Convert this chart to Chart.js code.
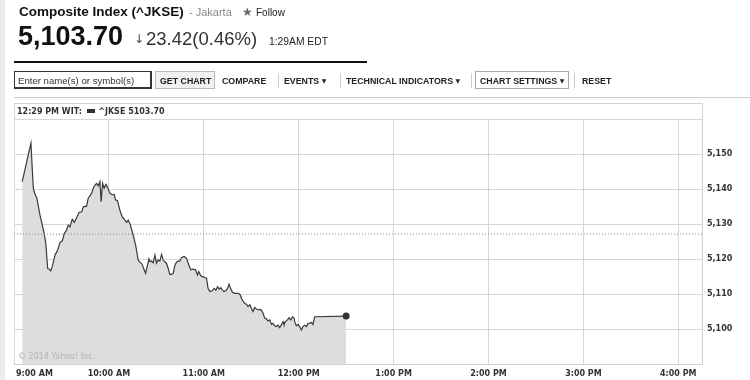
<!DOCTYPE html>
<html><head><meta charset="utf-8">
<script src="https://cdn.jsdelivr.net/npm/chart.js@4/dist/chart.umd.min.js"></script>
<style>
html,body{margin:0;padding:0;background:#fff;}
body{width:750px;height:380px;position:relative;overflow:hidden;font-family:"Liberation Sans",Arial,sans-serif;}
.a{position:absolute;white-space:nowrap;}
#cv{position:absolute;left:0;top:0;}
.tb{position:absolute;white-space:nowrap;font-size:8.8px;line-height:8.8px;font-weight:bold;color:#222;top:77px;}
.tri{font-family:"DejaVu Sans";font-size:6px;vertical-align:1px;}
.sep{position:absolute;top:73px;width:1px;height:15px;background:#ccc;}
.mini{font-family:"DejaVu Sans",Verdana,sans-serif;font-weight:bold;font-size:8px;line-height:8px;color:#333;}
</style></head><body>
<canvas id="cv" width="750" height="380"></canvas>
<div class="a" style="left:0;top:0;width:5px;height:380px;background:#ececec"></div>

<div class="a" style="left:19px;top:5px;font-weight:bold;font-size:13.5px;line-height:13.5px;color:#111">Composite Index (^JKSE)</div>
<div class="a" style="left:189px;top:7px;font-size:11px;line-height:11px;color:#8a8a8a">- Jakarta</div>
<div class="a" style="left:242px;top:6px;font-family:'DejaVu Sans';font-size:12px;line-height:12px;color:#666">★</div>
<div class="a" style="left:256px;top:8px;font-size:10px;line-height:10px;color:#222">Follow</div>

<div class="a" style="left:18px;top:23px;font-weight:bold;font-size:27px;line-height:27px;color:#111">5,103.70</div>
<div class="a" style="left:134px;top:33px;font-family:'DejaVu Sans';font-size:12px;line-height:12px;color:#444">↓</div>
<div class="a" style="left:146px;top:30px;font-size:18.5px;line-height:18.5px;color:#333">23.42(0.46%)</div>
<div class="a" style="left:269px;top:37px;font-size:10.3px;line-height:10.3px;color:#222">1:29AM EDT</div>

<div class="a" style="left:14px;top:61px;width:353px;height:2px;background:#111"></div>
<div class="a" style="left:14px;top:71px;width:135px;height:15px;border:1px solid #333;border-right-width:2px;border-bottom-width:2px;"></div>
<div class="a" style="left:18px;top:76px;font-size:9.6px;line-height:9.6px;color:#333">Enter name(s) or symbol(s)</div>
<div class="a" style="left:155px;top:71px;width:58px;height:16px;border:1px solid #bbb;background:#f1f1f1"></div>
<div class="tb" style="left:160px">GET CHART</div>
<div class="tb" style="left:222px">COMPARE</div>
<div class="sep" style="left:278px"></div>
<div class="tb" style="left:284px">EVENTS <span class="tri">▼</span></div>
<div class="sep" style="left:340px"></div>
<div class="tb" style="left:346px">TECHNICAL INDICATORS <span class="tri">▼</span></div>
<div class="sep" style="left:471px"></div>
<div class="a" style="left:475px;top:71px;width:92px;height:16px;border:1px solid #aaa;"></div>
<div class="tb" style="left:480px">CHART SETTINGS <span class="tri">▼</span></div>
<div class="sep" style="left:574px"></div>
<div class="tb" style="left:582px">RESET</div>
<div class="a" style="left:14px;top:97px;width:736px;height:1px;background:#cfcfcf"></div>

<div class="a" style="left:14px;top:103px;width:687px;height:16px;border:1px solid #d3d3d3;border-bottom:none;"></div>
<div class="a mini" style="left:17px;top:108px">12:29 PM WIT:&nbsp;&nbsp;<span style="display:inline-block;width:8px;height:4px;background:#333;vertical-align:1px"></span> ^JKSE 5103.70</div>
<div class="a" style="left:18px;top:353px;font-family:'DejaVu Sans',Verdana,sans-serif;font-size:8px;line-height:8px;color:#b5b5b5">© 2014 Yahoo! Inc.</div>

<script>
// minutes after 9:00 AM
const times = [5.2,10.7,12.2,13.3,14.5,16.4,19.1,20.2,21.3,22.3,23.2,24.2,25.9,27.6,29.2,30.5,31.8,33.3,34.3,35.4,36.8,38.1,39.6,41.1,42.8,43.8,45.9,46.9,49.1,50.3,
51.2,52.2,53.2,54.3,55.1,56.0,57.0,58.1,59.2,60.6,62.1,63.3,64.2,65.5,66.9,68.4,70.1,71.2,72.2,73.5,75.3,76.9,78.5,79.6,81.0,82.3,83.2,84.2,85.3,86.1,
87.0,88.0,89.1,90.1,91.1,92.2,93.3,94.3,95.4,96.4,97.5,98.5,99.6,100.6,101.7,102.8,103.8,104.8,105.9,107.6,109.1,110.5,111.8,113.2,114.8,116.0,116.8,118.1,119.6,120.6,
121.7,122.7,123.8,125.2,126.5,127.6,128.7,129.7,130.7,131.8,132.8,133.9,135.0,136.0,137.1,138.1,139.6,141.7,142.9,143.8,144.8,145.9,147.0,148.0,149.1,150.1,151.1,152.2,153.3,154.3,
156.0,157.5,158.5,159.6,160.6,161.7,162.8,163.8,164.8,165.9,166.9,168.0,169.1,170.1,170.7,171.6,172.9,173.9,175.0,176.0,177.0,177.5,178.5,179.6,180.6,181.7,182.7,183.8,184.9,185.9,
186.9,188.0,189.0,190.1,210.0];
const values = [5142.1,5153.1,5140.2,5138.5,5137.3,5132.6,5127.3,5124.0,5117.3,5117.1,5116.6,5117.8,5121.1,5122.6,5124.8,5125.1,5127.3,5128.3,5129.7,5129.2,5131.4,5130.5,5131.8,5133.3,5133.5,5134.9,5135.1,5137.3,5138.8,5140.4,
5141.1,5141.6,5140.9,5142.1,5136.4,5141.6,5140.2,5141.3,5140.4,5138.8,5138.3,5138.5,5136.9,5136.6,5134.0,5132.1,5131.1,5130.5,5131.1,5129.9,5126.9,5124.0,5119.7,5119.1,5118.5,5116.9,5115.9,5117.8,5120.0,5119.2,
5119.4,5118.9,5121.1,5118.8,5119.7,5119.4,5121.3,5119.7,5119.2,5118.8,5117.3,5115.6,5115.6,5115.9,5118.2,5119.1,5119.4,5119.4,5120.4,5120.7,5120.2,5118.3,5116.9,5117.1,5116.9,5115.4,5116.4,5115.2,5114.9,5114.7,
5114.5,5111.6,5110.7,5110.9,5111.6,5111.1,5112.1,5111.4,5111.8,5111.1,5110.7,5110.9,5111.6,5112.8,5111.4,5110.5,5110.2,5110.2,5109.9,5108.8,5108.0,5107.3,5107.1,5106.4,5106.9,5105.9,5105.0,5106.2,5105.7,5105.5,
5105.6,5104.5,5103.1,5102.9,5102.3,5102.6,5101.3,5101.6,5100.9,5100.7,5101.1,5100.4,5101.3,5102.1,5101.3,5102.1,5102.6,5103.2,5102.6,5103.5,5103.2,5102.1,5100.9,5101.3,5100.7,5099.7,5100.7,5101.1,5100.7,5101.6,
5101.6,5101.9,5101.3,5103.5,5103.7];
const prevCloseValue = 5127.12;
const xTickValues = [0,60,120,180,240,300,360,420];
const xTickLabels = ['9:00 AM','10:00 AM','11:00 AM','12:00 PM','1:00 PM','2:00 PM','3:00 PM','4:00 PM'];
const yTickValues = [5100,5110,5120,5130,5140,5150];
const yTickLabels = ['5,100','5,110','5,120','5,130','5,140','5,150'];
const xMin = 0, xMax = 435, yMin = 5090, yMax = 5160;

const pts = times.map((t,i)=>({x:t,y:values[i]}));

const xLabelPlugin = {id:'xlabels', afterDraw(chart){
  const s = chart.scales.x, ctx = chart.ctx, ca = chart.chartArea;
  ctx.save();
  ctx.font = 'bold 8px "DejaVu Sans"';
  ctx.fillStyle = '#333';
  ctx.textBaseline = 'alphabetic';
  ctx.textAlign = 'left';
  xTickValues.forEach((v,i)=>{
    const t = xTickLabels[i];
    const w = ctx.measureText(t).width;
    let x = s.getPixelForValue(v) - w/2;
    if (x < ca.left + 2) x = ca.left + 2;
    ctx.fillText(t, x, ca.bottom + 12);
  });
  ctx.restore();
}};

new Chart(document.getElementById('cv'), {
  type:'line',
  data:{datasets:[
    {data:pts, borderColor:'#3a3a3a', borderWidth:1.2, backgroundColor:'#dddddd', fill:'start', tension:0,
     pointRadius: c => c.dataIndex === pts.length-1 ? 3.5 : 0, pointBackgroundColor:'#333', pointBorderWidth:0, order:1},
    {data:[{x:xMin,y:prevCloseValue},{x:xMax,y:prevCloseValue}], borderColor:'#8a8a8a', borderWidth:1, borderDash:[1,2], pointRadius:0, fill:false, order:0}
  ]},
  options:{
    responsive:false, animation:false, devicePixelRatio:1,
    layout:{padding:{left:14, top:119, right:0, bottom:0}},
    plugins:{legend:{display:false}, tooltip:{enabled:false}},
    scales:{
      x:{type:'linear', min:xMin, max:xMax,
         afterBuildTicks: s => { s.ticks = [...xTickValues, xMax].map(v=>({value:v})); },
         ticks:{display:false}, grid:{color:'#d6d6d6', drawTicks:false}, border:{color:'#d0d0d0'},
         afterFit: s => { s.height = 16; }},
      y:{position:'right', min:yMin, max:yMax,
         afterBuildTicks: s => { s.ticks = [yMin, ...yTickValues, yMax].map(v=>({value:v})); },
         ticks:{padding:5, color:'#333', font:{family:'DejaVu Sans', size:8, weight:'bold'},
                callback: v => { const i = yTickValues.indexOf(v); return i >= 0 ? yTickLabels[i] : ''; }},
         grid:{color:'#d6d6d6', drawTicks:false}, border:{color:'#d0d0d0'},
         afterFit: s => { s.width = 48; }}
    }
  },
  plugins:[xLabelPlugin]
});
</script>
</body></html>
